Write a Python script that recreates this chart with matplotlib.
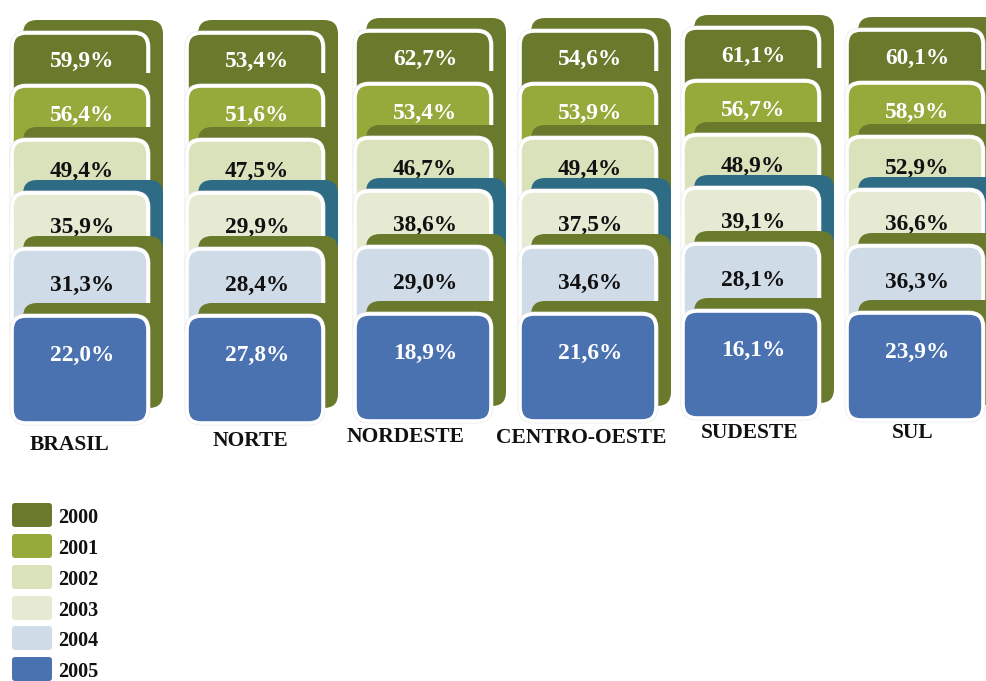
import matplotlib
matplotlib.use("Agg")
import matplotlib.pyplot as plt
from matplotlib.patches import FancyBboxPatch

# ---- data -------------------------------------------------------------
regions = ["BRASIL", "NORTE", "NORDESTE", "CENTRO-OESTE", "SUDESTE", "SUL"]
years = ["2000", "2001", "2002", "2003", "2004", "2005"]

pct_2000 = [59.9, 53.4, 62.7, 54.6, 61.1, 60.1]
pct_2001 = [56.4, 51.6, 53.4, 53.9, 56.7, 58.9]
pct_2002 = [49.4, 47.5, 46.7, 49.4, 48.9, 52.9]
pct_2003 = [35.9, 29.9, 38.6, 37.5, 39.1, 36.6]
pct_2004 = [31.3, 28.4, 29.0, 34.6, 28.1, 36.3]
pct_2005 = [22.0, 27.8, 18.9, 21.6, 16.1, 23.9]
series = [pct_2000, pct_2001, pct_2002, pct_2003, pct_2004, pct_2005]

# ---- style ------------------------------------------------------------
year_colors = ["#6a7a2c", "#96aa3c", "#d9e2ba", "#e6ead2", "#d0dbe8", "#4a72b0"]
text_colors = ["white", "white", "#111111", "#111111", "#111111", "white"]
back_colors = ["#6a7a2c", "#6a7a2c", "#6a7a2c", "#2e6c86", "#6a7a2c", "#6a7a2c"]

W, H = 987, 681
col_left = [12, 187, 355, 520, 683, 847]
col_dy = [0, 0, -2, -2, -5, -3]
card_w = 136
row_top = [33, 86, 140, 193, 249, 316]
front_h = [95, 95, 95, 95, 95, 107]
text_off = [28.5, 29, 31.5, 34, 36.5, 39]
back_dx, back_dy, back_extra_w, back_h = 11, -13, 4, 105
radius = 14

label_x = [70, 250, 405, 581, 750, 913]
label_y = [445, 441, 437, 438, 433, 433]

serif = ["Liberation Serif", "DejaVu Serif"]

fig = plt.figure(figsize=(W / 100, H / 100), dpi=100)
ax = fig.add_axes([0, 0, 1, 1])
ax.set_xlim(0, W)
ax.set_ylim(H, 0)
ax.axis("off")
fig.patch.set_facecolor("white")


def fmt(v):
    return f"{v:.1f}".replace(".", ",") + "%"


z = 1
for c, region in enumerate(regions):
    x0 = col_left[c]
    dy = col_dy[c]
    for r in range(len(years)):
        top = row_top[r] + dy
        # card behind, shifted up and to the right
        back = FancyBboxPatch((x0 + back_dx, top + back_dy), card_w + back_extra_w, back_h,
                              boxstyle=f"round,pad=0,rounding_size={radius}",
                              facecolor=back_colors[r], edgecolor="none", zorder=z)
        ax.add_patch(back)
        z += 1
        # faint grey halo, then white-rimmed front card
        halo = FancyBboxPatch((x0, top), card_w, front_h[r],
                              boxstyle=f"round,pad=0,rounding_size={radius}",
                              facecolor="none", edgecolor="#e6e6e6", linewidth=3.4, zorder=z)
        ax.add_patch(halo)
        z += 1
        front = FancyBboxPatch((x0, top), card_w, front_h[r],
                               boxstyle=f"round,pad=0,rounding_size={radius}",
                               facecolor=year_colors[r], edgecolor="white", linewidth=2.6, zorder=z)
        ax.add_patch(front)
        z += 1
        ax.text(x0 + card_w / 2 + 2, top + text_off[r], fmt(series[r][c]),
                ha="center", va="center", fontsize=16.8, fontweight="bold",
                family=serif, color=text_colors[r], zorder=z)
        z += 1
    ax.text(label_x[c], label_y[c], region, ha="center", va="center",
            fontsize=15.5, fontweight="bold", family=serif, color="#111111", zorder=z)

# ---- legend -----------------------------------------------------------
leg_top = [503, 534, 565, 596, 626, 657]
for i, yr in enumerate(years):
    box = FancyBboxPatch((12, leg_top[i]), 40, 24,
                         boxstyle="round,pad=0,rounding_size=3",
                         facecolor=year_colors[i], edgecolor="none", zorder=500)
    ax.add_patch(box)
    ax.text(58, leg_top[i] + 15, yr, ha="left", va="center", fontsize=14.5,
            fontweight="bold", family=serif, color="#111111", zorder=501)

fig.savefig("out.png", dpi=100, facecolor="white")
